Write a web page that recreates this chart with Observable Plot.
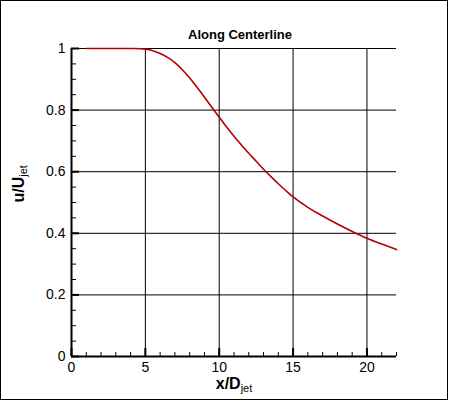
<!DOCTYPE html>
<html>
<head>
<meta charset="utf-8">
<script src="https://cdn.jsdelivr.net/npm/d3@7"></script>
<script src="https://cdn.jsdelivr.net/npm/@observablehq/plot@0.6"></script>
<style>
  body { margin: 0; background: white; }
  #chart { width: 450px; height: 401px; }
</style>
</head>
<body>
<div id="chart"></div>
<script>
// x/Djet along the jet centerline
const xPos = [1, 2, 3, 4, 5, 5.5, 6, 6.5, 7, 7.5, 8, 8.5, 9, 9.5, 10, 10.5, 11, 11.5, 12, 12.5, 13, 13.5, 14, 14.5, 15, 16, 17, 18, 19, 20, 21, 22];
const uRatio = [1, 1, 1, 1, 0.998, 0.993, 0.984, 0.971, 0.954, 0.931, 0.904, 0.874, 0.842, 0.809, 0.777, 0.745, 0.715, 0.687, 0.66, 0.634, 0.608, 0.584, 0.561, 0.539, 0.518, 0.484, 0.456, 0.43, 0.406, 0.384, 0.365, 0.347];

const xMajor = [0, 5, 10, 15, 20];
const xGrid = [5, 10, 15, 20];
const xMinor = d3.range(0, 23, 1);
const yMajor = [0, 0.2, 0.4, 0.6, 0.8, 1];
const yGrid = [0.2, 0.4, 0.6, 0.8, 1];
const yMinor = d3.range(0, 1.0001, 0.05);

const title = "Along Centerline";

const data = xPos.map((x, i) => ({x, u: uRatio[i]}));

let chart = Plot.plot({
  width: 450,
  height: 401,
  marginLeft: 71,
  marginRight: 54,
  marginTop: 48,
  marginBottom: 45,
  style: {fontFamily: "'Liberation Sans', Arial, sans-serif", fontSize: "14px", background: "white", color: "black"},
  x: {domain: [0, 22]},
  y: {domain: [0, 1]},
  marks: [
    Plot.gridX(xGrid, {stroke: "black", strokeOpacity: 1, strokeWidth: 1}),
    Plot.gridY(yGrid, {stroke: "black", strokeOpacity: 1, strokeWidth: 1}),
    // inward ticks
    Plot.axisX(xMinor, {tickSize: -4, tickFormat: () => "", label: null, strokeWidth: 1}),
    Plot.axisX(xMajor, {tickSize: -8, tickFormat: () => "", label: null, strokeWidth: 2}),
    Plot.axisY(yMinor, {tickSize: -5, tickFormat: () => "", label: null, strokeWidth: 1}),
    Plot.axisY(yMajor, {tickSize: -8, tickFormat: () => "", label: null, strokeWidth: 2}),
    Plot.axisX(xMajor, {tickSize: 0, tickPadding: 6, label: null, fontSize: 14}),
    Plot.axisY(yMajor, {tickSize: 0, tickPadding: 6, label: null, fontSize: 14, tickFormat: d => String(+d.toFixed(1))}),
    Plot.ruleX([0], {strokeWidth: 2}),
    Plot.ruleY([0], {strokeWidth: 2}),
    Plot.line(data, {x: "x", y: "u", stroke: "#b40000", strokeWidth: 1.6, curve: "catmull-rom"}),
    Plot.text([title], {frameAnchor: "top", lineAnchor: "bottom", dy: -10, dx: 6, fontWeight: "bold", fontSize: 13}),
    Plot.text(["x/D"], {frameAnchor: "bottom", lineAnchor: "bottom", dy: 32, fontWeight: "bold", fontSize: 16}),
    Plot.text(["u/U"], {frameAnchor: "left", lineAnchor: "bottom", rotate: -90, dx: -48, fontWeight: "bold", fontSize: 16})
  ]
});

// subscripts for the axis labels
d3.select(chart).selectAll("text")
  .filter(function() { return this.textContent === "x/D" || this.textContent === "u/U"; })
  .append("tspan")
  .attr("dy", "0.3em")
  .attr("font-size", 11)
  .attr("font-weight", "normal")
  .text("jet");

// figure frame
d3.select(chart).append("rect")
  .attr("x", 0.5).attr("y", 0.5)
  .attr("width", 447).attr("height", 399)
  .attr("fill", "none").attr("stroke", "black");

d3.select("#chart").append(() => chart);
</script>
</body>
</html>
